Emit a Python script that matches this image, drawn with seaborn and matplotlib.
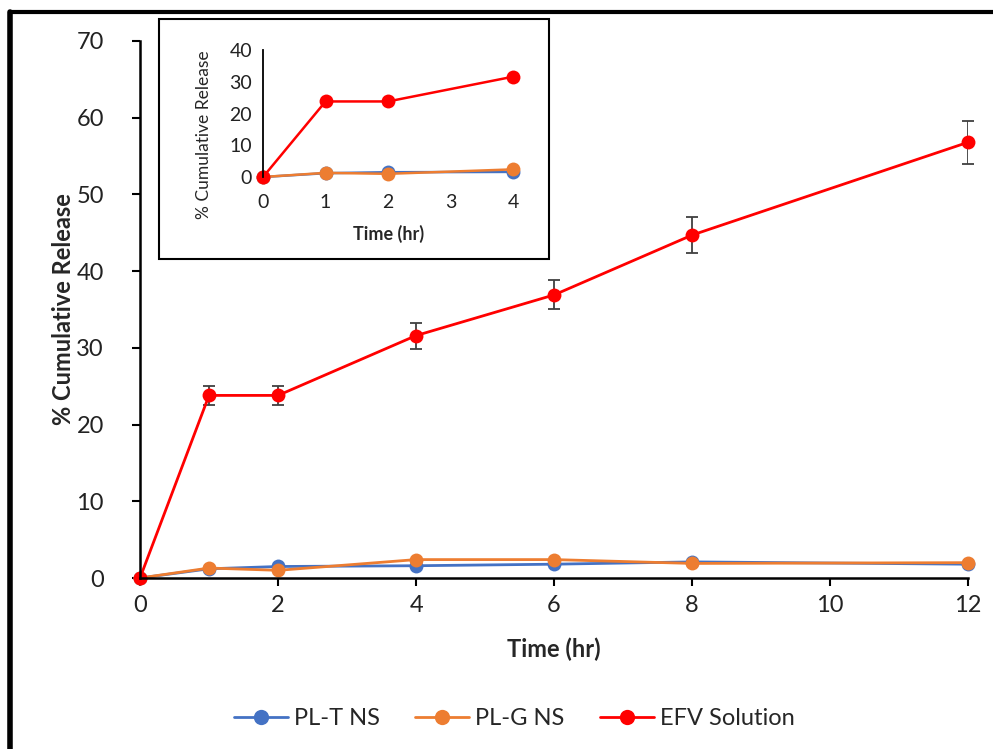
import numpy as np
import pandas as pd
import seaborn as sns
import matplotlib.pyplot as plt
from matplotlib.patches import Rectangle

# datos
time_hr = [0, 1, 2, 4, 6, 8, 12]
pl_t = [0, 1.2, 1.5, 1.6, 1.8, 2.1, 1.8]
pl_g = [0, 1.3, 1.0, 2.4, 2.4, 1.9, 2.0]
efv = [0, 23.8, 23.8, 31.6, 36.9, 44.7, 56.8]
efv_err = [0, 1.2, 1.2, 1.7, 1.9, 2.3, 2.8]
series_names = ['PL-T NS', 'PL-G NS', 'EFV Solution']
colors = ['#4472C4', '#ED7D31', '#FF0000']

inset_time = [0, 1, 2, 4]

sns.set_style('white')
plt.rcParams['font.family'] = ['Lato', 'DejaVu Sans']

df = pd.DataFrame({
    'Time (hr)': time_hr * 3,
    'release': pl_t + pl_g + efv,
    'serie': sum([[s] * len(time_hr) for s in series_names], []),
})
df_in = df[df['Time (hr)'].isin(inset_time)]

fig = plt.figure(figsize=(9.93, 7.49), dpi=100)
ax = fig.add_axes([0.141, 0.2283, 0.834, 0.717])

sns.lineplot(data=df, x='Time (hr)', y='release', hue='serie', hue_order=series_names,
             palette=colors, marker='o', markersize=10, markeredgewidth=0,
             linewidth=2, ax=ax, legend=True)
ax.errorbar(time_hr, efv, yerr=efv_err, fmt='none', ecolor='#404040',
            elinewidth=1.3, capsize=4, capthick=1.3, zorder=1)

ax.set_xlim(0, 12)
ax.set_ylim(0, 70)
ax.set_xticks(range(0, 13, 2))
ax.set_yticks(range(0, 71, 10))
ax.tick_params(axis='both', labelsize=17, length=6, width=1.5, direction='out',
               bottom=True, left=True, colors='black')
ax.tick_params(axis='y', pad=20)
ax.tick_params(axis='x', pad=6)
ax.tick_params(labelcolor='#222222')
for s in ['top', 'right']:
    ax.spines[s].set_visible(False)
for s in ['left', 'bottom']:
    ax.spines[s].set_color('black')
    ax.spines[s].set_linewidth(1.8)
ax.set_xlabel('Time (hr)', fontsize=17, fontweight='bold', labelpad=16)
ax.set_ylabel('% Cumulative Release', fontsize=17, fontweight='bold', labelpad=1)
ax.patch.set_alpha(0)
for l in ax.lines:
    l.set_clip_on(False)

handles, labels = ax.get_legend_handles_labels()
ax.legend(handles, labels, loc='center', bbox_to_anchor=(0.452, -0.262), ncol=3,
          frameon=False, fontsize=17, handlelength=2.3, columnspacing=1.5,
          handletextpad=0.25)
for h in ax.get_legend().legend_handles:
    h.set_markersize(11)

# recuadro del inset
fig.patches.append(Rectangle((159 / 993, 1 - 259 / 749), 390 / 993, 240 / 749,
                             transform=fig.transFigure, fill=True, facecolor='white',
                             edgecolor='black', linewidth=1.5, zorder=2))

axin = fig.add_axes([0.2649, 0.7637, 0.2518, 0.1695], zorder=3)
sns.lineplot(data=df_in, x='Time (hr)', y='release', hue='serie', hue_order=series_names,
             palette=colors, marker='o', markersize=10, markeredgewidth=0,
             linewidth=1.8, ax=axin, legend=False)
axin.set_xlim(0, 4)
axin.set_ylim(0, 40)
axin.set_xticks(range(0, 5))
axin.set_yticks(range(0, 41, 10))
axin.tick_params(axis='both', labelsize=14, length=0, colors='#222222')
axin.tick_params(axis='y', pad=8)
axin.tick_params(axis='x', pad=12)
for s in ['top', 'right', 'bottom']:
    axin.spines[s].set_visible(False)
axin.spines['left'].set_color('black')
axin.spines['left'].set_linewidth(1.3)
axin.set_xlabel('Time (hr)', fontsize=13, fontweight='bold', labelpad=10)
axin.set_ylabel('% Cumulative Release', fontsize=12.5)
axin.yaxis.set_label_coords(-0.205, 0.33)
axin.patch.set_alpha(0)
for l in axin.lines:
    l.set_clip_on(False)

# marco exterior
fig.add_artist(plt.Line2D([10 / 993, 10 / 993], [0, 1 - 12 / 749], transform=fig.transFigure,
                          color='black', linewidth=4))
fig.add_artist(plt.Line2D([10 / 993, 1], [1 - 12 / 749, 1 - 12 / 749], transform=fig.transFigure,
                          color='black', linewidth=3))

fig.savefig('out.png', dpi=100)
